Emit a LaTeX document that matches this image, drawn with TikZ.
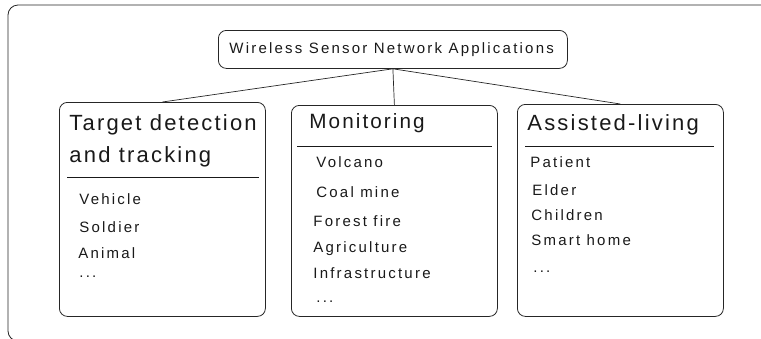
\documentclass[tikz,border=0pt]{standalone}
\usepackage{fontspec}
\setmainfont{Liberation Sans}
\newfontfamily\headfont[LetterSpace=10]{Liberation Sans}
\newfontfamily\itemfont[LetterSpace=14.8]{Liberation Sans}
\begin{document}
\begin{tikzpicture}[x=1pt,y=-1pt,
  line width=0.8pt,
  frame/.style={draw=black!85, rounded corners=8pt},
  panel/.style={draw=black!85, rounded corners=8pt, inner sep=0pt, anchor=north west},
  rule/.style={draw=black!90, line width=0.7pt},
  link/.style={draw=black!85, line width=0.7pt},
  head/.style={anchor=base west, inner sep=0pt, text=black!90, font=\headfont\fontsize{22}{26}\selectfont},
  item/.style={anchor=base west, inner sep=0pt, text=black!90, font=\itemfont\fontsize{15}{18}\selectfont},
]
\useasboundingbox (0,0) rectangle (761,338);
% outer frame, running past the right and bottom edges
\begin{scope}
  \clip (0,0) rectangle (761,338);
  \draw[frame, rounded corners=10pt] (8,5) rectangle (790,341);
\end{scope}

% root
\node[panel, minimum width=349pt, minimum height=38pt] (root) at (218,30) {};
\node[item] (rootlabel) at (229,53) {Wireless Sensor Network Applications};

% category panels
\node[panel, minimum width=206pt, minimum height=214pt] (tgt) at (59,102) {};
\node[panel, minimum width=206pt, minimum height=211pt] (mon) at (291,105) {};
\node[panel, minimum width=206pt, minimum height=212pt] (ast) at (517,104) {};

\draw[link] (root.south) -- (tgt.north);
\draw[link] (root.south) -- (mon.north);
\draw[link] (root.south) -- (ast.north);

% target detection
\node[head] (h1a) at (69,130) {Target detection};
\node[head] (h1b) at (69,162) {and tracking};
\draw[rule] (67,177) -- (259,177);
\node[item] (t1) at (79,204) {Vehicle};
\node[item] (t2) at (79,232) {Soldier};
\node[item] (t3) at (78,258) {Animal};
\node[item] (t4) at (79,277) {...};

% monitoring
\node[head, font=\headfont\fontsize{20.7}{24}\selectfont] (h2) at (309,128) {Monitoring};
\draw[rule] (297,146) -- (492,146);
\node[item] (m1) at (316,167) {Volcano};
\node[item] (m2) at (316,197) {Coal mine};
\node[item] (m3) at (313,226) {Forest fire};
\node[item] (m4) at (313,252) {Agriculture};
\node[item] (m5) at (313,278) {Infrastructure};
\node[item] (m6) at (316,302) {...};

% assisted living
\node[head] (h3) at (527,130) {Assisted-living};
\draw[rule] (525,146) -- (714,146);
\node[item] (a1) at (530,167) {Patient};
\node[item] (a2) at (532,195) {Elder};
\node[item] (a3) at (531,220) {Children};
\node[item] (a4) at (531,245) {Smart home};
\node[item] (a5) at (533,272) {...};
\end{tikzpicture}
\end{document}
